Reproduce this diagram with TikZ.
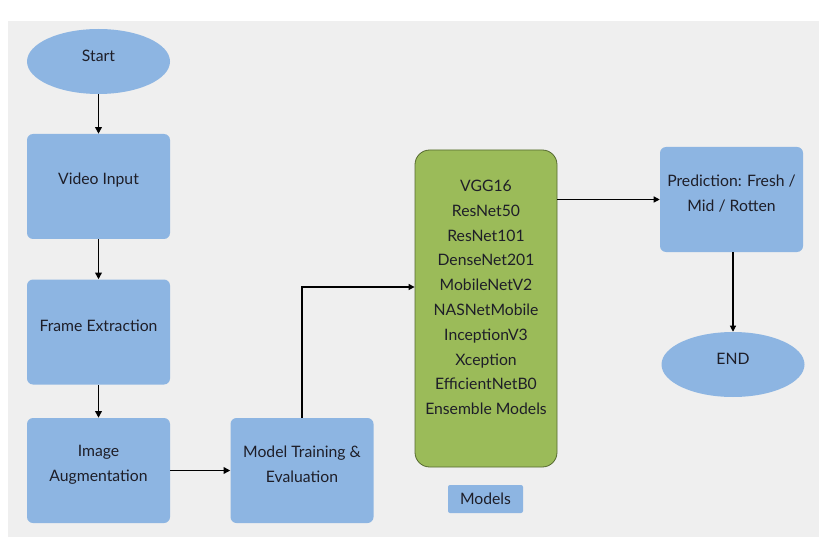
\documentclass[tikz,border=0pt]{standalone}
\usepackage{fontspec}
\setmainfont{Lato}
\usetikzlibrary{shapes.geometric,arrows.meta}
\definecolor{bgc}{HTML}{EFEFEF}
\definecolor{boxblue}{HTML}{8DB5E2}
\definecolor{boxgreen}{HTML}{9BBB59}
\definecolor{greenedge}{HTML}{55692F}
\definecolor{txt}{HTML}{1E1E28}
\newcommand{\upshift}[1]{\raisebox{4.5pt}[\height][\depth]{#1}}
\newcommand{\twolines}[2]{\raisebox{4.5pt}[\height][\depth]{\parbox{104pt}{\centering\fontsize{11.8}{18.7}\selectfont #1\\#2}}}
\tikzset{
  bluebox/.style={fill=boxblue, rounded corners=4.5pt, minimum width=107.25pt, minimum height=78.75pt, align=center, font=\fontsize{11.8}{18.7}\selectfont, text=txt, inner sep=0pt},
  blueoval/.style={ellipse, fill=boxblue, minimum width=107.25pt, minimum height=48.75pt, font=\fontsize{11.8}{18.7}\selectfont, text=txt, inner sep=0pt},
  conn/.style={line width=1.1pt, -{Triangle[length=5pt,width=5pt]}},
  connthin/.style={line width=0.8pt, -{Triangle[length=4.5pt,width=4.5pt]}},
}
\begin{document}
\begin{tikzpicture}[x=0.75pt,y=-0.75pt]
\useasboundingbox (0,0) rectangle (832,549);
\fill[bgc] (8,21) rectangle (819,537);
\node[blueoval] (start) at (98.5,61.5) {\upshift{Start}};
\node[bluebox] (video) at (98.5,186.5) {\upshift{Video Input}};
\node[bluebox] (frame) at (98.5,332) {\upshift{Frame Extraction}};
\node[bluebox] (aug) at (98.5,470.5) {\twolines{Image}{Augmentation}};
\node[bluebox] (train) at (302,470.5) {\twolines{Model Training \&}{Evaluation}};
\node[draw=greenedge, line width=0.6pt, fill=boxgreen, rounded corners=11pt, minimum width=106.5pt, minimum height=237.75pt, inner sep=0pt] (green) at (486,308.5) {};
\node[align=center, text=txt, font=\fontsize{11.8}{18.6}\selectfont] (gtxt) at (486,297.5) {VGG16\\ResNet50\\ResNet101\\DenseNet201\\MobileNetV2\\NASNetMobile\\InceptionV3\\Xception\\EfficientNetB0\\Ensemble Models};
\node[fill=boxblue, rounded corners=1.5pt, minimum width=56.25pt, minimum height=21pt, inner sep=0pt, text=txt, font=\fontsize{11.8}{13}\selectfont] (models) at (485.5,499) {Models};
\node[bluebox] (pred) at (731.5,199.5) {\twolines{Prediction: Fresh /}{Mid / Rotten}};
\node[blueoval] (end) at (733,364.5) {\upshift{END}};
\coordinate (gin) at (415,287);
\draw[conn] (start) -- (video);
\draw[conn] (video) -- (frame);
\draw[conn] (frame) -- (aug);
\draw[conn] (aug) -- (train);
\draw[connthin] (train.north) |- (green.west |- gin);
\draw[connthin] (green.east |- pred.west) -- (pred.west);
\draw[connthin] (pred.south -| end.north) -- (end.north);
\end{tikzpicture}
\end{document}
